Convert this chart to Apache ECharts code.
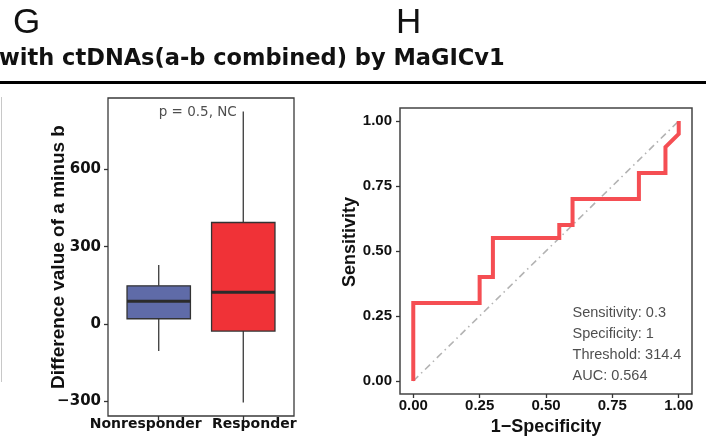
<!DOCTYPE html>
<html>
<head>
<meta charset="utf-8">
<script src="https://cdn.jsdelivr.net/npm/echarts@6/dist/echarts.min.js"></script>
<style>html,body{margin:0;padding:0;background:#fff}#main{width:707px;height:436px}</style>
</head>
<body>
<div id="main"></div>
<script>
// panel G: box plot of a minus b
var groups = ['Nonresponder', 'Responder'];
var boxLow = [-105, -306];
var boxQ1 = [20, -28];
var boxMedian = [88, 123];
var boxQ3 = [148, 394];
var boxHigh = [229, 826];
var boxTicks = [-300, 0, 300, 600];
var pText = 'p = 0.5, NC';

// panel H: ROC curve
var rocFpr = [0, 0, 0.25, 0.25, 0.3, 0.3, 0.55, 0.55, 0.6, 0.6, 0.85, 0.85, 0.95, 0.95, 1, 1];
var rocSens = [0, 0.3, 0.3, 0.4, 0.4, 0.55, 0.55, 0.6, 0.6, 0.7, 0.7, 0.8, 0.8, 0.9, 0.95, 1];
var rocTicks = [0, 0.25, 0.5, 0.75, 1];
var rocNotes = ['Sensitivity: 0.3', 'Specificity: 1', 'Threshold: 314.4', 'AUC: 0.564'];

var boxColors = ['#5f6ba8', '#f03237'];

var chart = echarts.init(document.getElementById('main'));

function renderBox(params, api) {
    var x = api.value(0);
    var w = api.size([0.75, 0])[0];
    var low = api.coord([x, api.value(1)]);
    var q1 = api.coord([x, api.value(2)]);
    var med = api.coord([x, api.value(3)]);
    var q3 = api.coord([x, api.value(4)]);
    var high = api.coord([x, api.value(5)]);
    var whisker = {stroke: '#3a3a3a', lineWidth: 1.3};
    return {
        type: 'group',
        children: [
            {type: 'line', shape: {x1: low[0], y1: low[1], x2: q1[0], y2: q1[1]}, style: whisker},
            {type: 'line', shape: {x1: q3[0], y1: q3[1], x2: high[0], y2: high[1]}, style: whisker},
            {type: 'rect', shape: {x: q3[0] - w / 2, y: q3[1], width: w, height: q1[1] - q3[1]},
                style: {fill: boxColors[params.dataIndex], stroke: '#333', lineWidth: 1.3}},
            {type: 'line', shape: {x1: med[0] - w / 2, y1: med[1], x2: med[0] + w / 2, y2: med[1]},
                style: {stroke: '#2b2b2b', lineWidth: 3}}
        ]
    };
}

var boxData = groups.map(function (g, i) {
    return [i + 1, boxLow[i], boxQ1[i], boxMedian[i], boxQ3[i], boxHigh[i]];
});
var rocData = rocFpr.map(function (x, i) { return [x, rocSens[i]]; });

var tickStyle = {length: 4, lineStyle: {color: '#333', width: 1.3}};
var wideBold = {fontFamily: 'DejaVu Sans', fontWeight: 'bold', color: '#111'};
var arialBold = {fontFamily: 'Liberation Sans', fontWeight: 'bold', color: '#111'};

var option = {
    animation: false,
    backgroundColor: '#fff',
    grid: [
        {left: 108, top: 98, width: 186, height: 318, show: true, borderColor: '#3a3a3a', borderWidth: 1.3, outerBoundsMode: 'none'},
        {left: 400, top: 108, width: 292, height: 286, show: true, borderColor: '#444', borderWidth: 1.5, outerBoundsMode: 'none'}
    ],
    xAxis: [
        {
            gridIndex: 0, type: 'value', min: 0.4, max: 2.6,
            axisLine: {show: false, onZero: false}, splitLine: {show: false},
            axisTick: Object.assign({customValues: [1, 2]}, tickStyle),
            axisLabel: Object.assign({
                customValues: [1, 2], margin: 1, fontSize: 14, hideOverlap: false,
                formatter: function (v) { return (v === 1 ? '{a|' : '{b|') + groups[v - 1] + '}'; },
                rich: {
                    a: Object.assign({fontSize: 14, padding: [0, 26, 0, 0]}, wideBold),
                    b: Object.assign({fontSize: 14, padding: [0, 0, 0, 22]}, wideBold)
                }
            }, wideBold)
        },
        {
            gridIndex: 1, type: 'value', min: -0.05, max: 1.05,
            name: '1\u2212Specificity', nameLocation: 'middle', nameGap: 21,
            nameTextStyle: Object.assign({fontSize: 18}, arialBold),
            axisLine: {show: false, onZero: false}, splitLine: {show: false},
            axisTick: Object.assign({customValues: rocTicks}, tickStyle),
            axisLabel: Object.assign({
                customValues: rocTicks, margin: 4, fontSize: 15,
                formatter: function (v) { return v.toFixed(2); }
            }, arialBold)
        }
    ],
    yAxis: [
        {
            gridIndex: 0, type: 'value', min: -358, max: 878,
            name: 'Difference value of a minus b', nameLocation: 'middle', nameGap: 40,
            nameMoveOverlap: false,
            nameTextStyle: Object.assign({fontSize: 19}, arialBold),
            axisLine: {show: false, onZero: false}, splitLine: {show: false},
            axisTick: Object.assign({customValues: boxTicks}, tickStyle),
            axisLabel: Object.assign({
                customValues: boxTicks, margin: 7, fontSize: 15,
                formatter: function (v) { return v < 0 ? '\u2212' + Math.abs(v) : String(v); }
            }, wideBold)
        },
        {
            gridIndex: 1, type: 'value', min: -0.05, max: 1.05,
            name: 'Sensitivity', nameLocation: 'middle', nameGap: 41,
            nameTextStyle: Object.assign({fontSize: 18, padding: [0, 0, 0, 18]}, arialBold),
            axisLine: {show: false, onZero: false}, splitLine: {show: false},
            axisTick: Object.assign({customValues: rocTicks}, tickStyle),
            axisLabel: Object.assign({
                customValues: rocTicks, margin: 8, fontSize: 15,
                formatter: function (v) { return v.toFixed(2); }
            }, arialBold)
        }
    ],
    series: [
        {
            type: 'custom', xAxisIndex: 0, yAxisIndex: 0,
            renderItem: renderBox, data: boxData,
            encode: {x: 0, y: [1, 2, 3, 4, 5]}
        },
        {
            type: 'scatter', xAxisIndex: 0, yAxisIndex: 0, symbolSize: 0, silent: true,
            data: [[1, 823]],
            label: {show: true, position: 'right', distance: 0, formatter: pText,
                fontFamily: 'DejaVu Sans', fontSize: 13.5, color: '#222'}
        },
        {
            type: 'line', xAxisIndex: 1, yAxisIndex: 1, showSymbol: false, silent: true,
            data: [[0, 0], [1, 1]],
            lineStyle: {color: '#b3b3b3', width: 1.6, type: [7, 4, 1.5, 4]}
        },
        {
            type: 'line', xAxisIndex: 1, yAxisIndex: 1, showSymbol: false, silent: true,
            data: rocData, z: 3,
            lineStyle: {color: '#f54e53', width: 4, join: 'miter', cap: 'butt'}
        },
        {
            type: 'scatter', xAxisIndex: 1, yAxisIndex: 1, symbolSize: 0, silent: true,
            data: [[0.6, 0.142]],
            label: {show: true, position: 'right', distance: 0, formatter: rocNotes.join('\n'),
                lineHeight: 21, fontFamily: 'Liberation Sans', fontSize: 14.5, color: '#222'}
        }
    ],
    graphic: [
        {type: 'text', left: 13, top: 6, style: {text: 'G', font: '35px "Liberation Sans"', fill: '#111'}},
        {type: 'text', left: 396, top: 6, style: {text: 'H', font: '35px "Liberation Sans"', fill: '#111'}},
        {type: 'text', left: -1, top: 48, style: {text: 'with ctDNAs(a-b combined) by MaGICv1', font: 'bold 22.5px "DejaVu Sans"', fill: '#111'}},
        {type: 'rect', left: 0, top: 81, shape: {width: 706, height: 3}, style: {fill: '#000'}},
        {type: 'rect', left: 1, top: 97, shape: {width: 1, height: 285}, style: {fill: '#c8c8c8'}}
    ]
};

chart.setOption(option);
</script>
</body>
</html>
